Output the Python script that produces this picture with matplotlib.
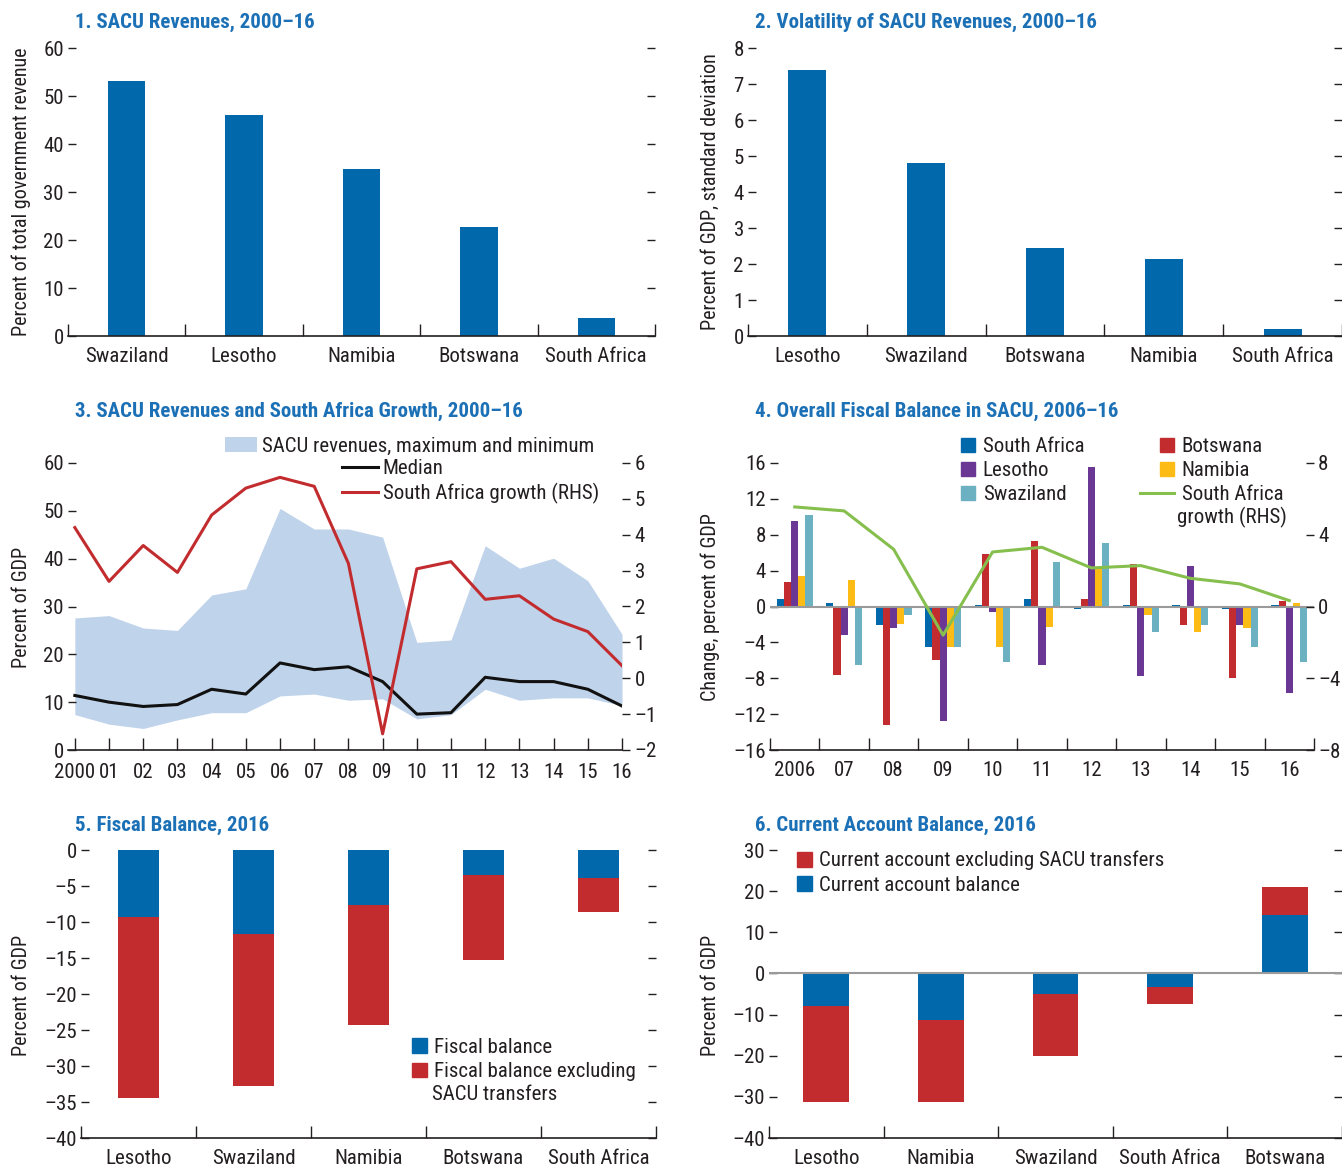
import matplotlib
matplotlib.use("Agg")
import matplotlib.pyplot as plt
import matplotlib.patches as mpatches
from matplotlib import font_manager
from matplotlib.legend_handler import HandlerPatch
from matplotlib.ticker import FuncFormatter
import numpy as np

# pick a narrow face if one is installed, else plain Liberation Sans a bit smaller
fonts = font_manager.fontManager.ttflist
names = {f.name for f in fonts}
FAM, STRETCH, K = 'Liberation Sans', 'normal', 0.84
for cand in ['Liberation Sans Narrow', 'Roboto Condensed', 'Open Sans Condensed',
             'DejaVu Sans Condensed', 'Noto Sans Condensed']:
    if cand in names:
        FAM, STRETCH, K = cand, 'normal', 1.0
        break
else:
    if any(f.name == 'DejaVu Sans' and 'condensed' in str(f.stretch) for f in fonts):
        FAM, STRETCH, K = 'DejaVu Sans', 'condensed', 0.95

plt.rcParams['font.family'] = [FAM, 'DejaVu Sans']
plt.rcParams['font.stretch'] = STRETCH
FS = 15 * K
plt.rcParams['font.size'] = FS

W, H = 1342, 1167
BLUE = '#0068ab'
RED = '#c22c2f'
PURPLE = '#6b3795'
YELLOW = '#fdbb16'
TEAL = '#6cb1c1'
GREEN = '#86bf4e'
BAND = '#bfd3ea'
TITLE = '#1b70b6'
INK = '#231f20'
ZERO = '#9a9a9a'

# 1. SACU revenues, percent of total government revenue
p1_countries = ['Swaziland', 'Lesotho', 'Namibia', 'Botswana', 'South Africa']
p1_share = [53.2, 46.0, 34.7, 22.8, 3.8]

# 2. volatility, percent of GDP (std dev)
p2_countries = ['Lesotho', 'Swaziland', 'Botswana', 'Namibia', 'South Africa']
p2_std = [7.4, 4.8, 2.45, 2.15, 0.2]

# 3. SACU revenues band and South Africa growth
p3_years = list(range(2000, 2017))
p3_year_labels = ['2000', '01', '02', '03', '04', '05', '06', '07', '08',
                  '09', '10', '11', '12', '13', '14', '15', '16']
p3_max = [27.6, 28.1, 25.5, 25.0, 32.4, 33.7, 50.5, 46.2, 46.2, 44.5,
          22.5, 23.0, 42.7, 38.0, 40.1, 35.4, 24.2]
p3_min = [7.4, 5.4, 4.5, 6.3, 7.8, 7.8, 11.3, 11.7, 10.4, 10.7,
          6.5, 7.4, 12.7, 10.4, 10.9, 10.9, 9.3]
p3_median = [11.4, 10.0, 9.1, 9.5, 12.7, 11.7, 18.2, 16.8, 17.4, 14.3,
             7.5, 7.8, 15.2, 14.3, 14.3, 12.7, 9.2]
p3_sa_growth = [4.2, 2.7, 3.7, 2.95, 4.55, 5.3, 5.6, 5.35, 3.2, -1.55,
                3.05, 3.25, 2.2, 2.3, 1.65, 1.3, 0.35]

# 4. overall fiscal balance, change in percent of GDP
p4_years = ['2006', '07', '08', '09', '10', '11', '12', '13', '14', '15', '16']
p4_south_africa = [0.8, 0.4, -2.1, -4.5, 0.2, 0.85, -0.3, 0.2, 0.2, -0.3, 0.2]
p4_botswana = [2.7, -7.6, -13.2, -6.0, 5.9, 7.3, 0.85, 4.75, -2.1, -8.0, 0.65]
p4_lesotho = [9.5, -3.2, -2.4, -12.8, -0.6, -6.5, 15.6, -7.8, 4.55, -2.1, -9.6]
p4_namibia = [3.4, 3.0, -1.9, -4.5, -4.5, -2.3, 4.3, -1.0, -2.8, -2.35, 0.4]
p4_swaziland = [10.2, -6.5, -1.0, -4.5, -6.2, 5.0, 7.1, -2.8, -2.1, -4.5, -6.2]
p4_sa_growth = [5.55, 5.33, 3.19, -1.6, 3.04, 3.3, 2.15, 2.28, 1.57, 1.26, 0.33]

# 5. fiscal balance 2016
p5_countries = ['Lesotho', 'Swaziland', 'Namibia', 'Botswana', 'South Africa']
p5_fiscal = [-9.35, -11.65, -7.7, -3.5, -3.9]
p5_fiscal_ex_sacu = [-34.4, -32.8, -24.3, -15.3, -8.6]

# 6. current account balance 2016
p6_countries = ['Lesotho', 'Namibia', 'Swaziland', 'South Africa', 'Botswana']
p6_ca = [-7.8, -11.2, -5.1, -3.3, 14.3]
p6_ca_ex_sacu = [-31.3, -31.3, -20.1, -7.5, 20.9]


def dash_fmt(v, pos):
    return f'{v:g}'.replace('-', '\u2013')


def fx(px):
    return px / W


def fy(py):
    return 1 - py / H


def add_axes(x0, y0, x1, y1):
    return fig.add_axes([fx(x0), fy(y1), (x1 - x0) / W, (y1 - y0) / H])


def style(ax, right_ticks=True):
    for s in ['left', 'right', 'top']:
        ax.spines[s].set_visible(False)
    ax.spines['bottom'].set_color(INK)
    ax.spines['bottom'].set_linewidth(1.2)
    ax.tick_params(axis='y', direction='in', length=6, width=1, colors=INK,
                   left=True, right=right_ticks, pad=3)
    ax.tick_params(axis='x', which='major', length=0, pad=8, colors=INK)
    ax.tick_params(axis='x', which='minor', direction='in', length=9,
                   width=1, color=INK)
    ax.yaxis.set_major_formatter(FuncFormatter(dash_fmt))
    ax.set_facecolor('none')


def categories(ax, labels):
    n = len(labels)
    ax.set_xlim(-0.5, n - 0.5)
    ax.set_xticks(range(n))
    ax.set_xticklabels(labels)
    ax.set_xticks(np.arange(n + 1) - 0.5, minor=True)


def note(x, y, text, color=INK, **kw):
    fig.text(fx(x), fy(y), text, ha='left', va='center', color=color, **kw)


def title(x, y, text):
    note(x, y, text, color=TITLE, fontweight='bold', fontsize=FS)


def ylabel(ax, text, x, y):
    ax.set_ylabel(text, fontsize=14.5 * K, color=INK)
    ax.yaxis.set_label_coords(fx(x), fy(y), transform=fig.transFigure)


def square(legend, orig_handle, xdescent, ydescent, width, height, fontsize):
    s = 0.68 * fontsize
    return mpatches.Rectangle((-xdescent + width - s, -ydescent + (height - s) / 2), s, s)


def legend(handles, labels, x, y, **kw):
    opts = dict(loc='upper left', bbox_to_anchor=(fx(x), fy(y)),
                bbox_transform=fig.transFigure, frameon=False, borderpad=0,
                borderaxespad=0, fontsize=FS, handletextpad=0.35,
                labelspacing=0.25)
    opts.update(kw)
    leg = fig.legend(handles, labels, **opts)
    for t in leg.get_texts():
        t.set_color(INK)
    return leg


fig = plt.figure(figsize=(W / 100, H / 100), dpi=100)

# panel 1
ax1 = add_axes(68, 48, 655, 336)
style(ax1)
ax1.bar(range(len(p1_share)), p1_share, width=0.32, color=BLUE)
categories(ax1, p1_countries)
ax1.set_ylim(0, 60)
ax1.set_yticks(range(0, 61, 10))
title(75, 22, '1. SACU Revenues, 2000\u201316')
ylabel(ax1, 'Percent of total government revenue', 31, 192)

# panel 2
ax2 = add_axes(748, 48, 1342, 336)
style(ax2)
ax2.bar(range(len(p2_std)), p2_std, width=0.32, color=BLUE)
categories(ax2, p2_countries)
ax2.set_ylim(0, 8)
ax2.set_yticks(range(0, 9))
title(755, 22, '2. Volatility of SACU Revenues, 2000\u201316')
ylabel(ax2, 'Percent of GDP, standard deviation', 720, 192)

# panel 3
ax3 = add_axes(68, 463, 622, 750)
style(ax3, right_ticks=False)
band = ax3.fill_between(p3_years, p3_min, p3_max, color=BAND, lw=0)
med, = ax3.plot(p3_years, p3_median, color='#111111', lw=2.2)
ax3.set_xlim(1999.8, 2016)
ax3.set_ylim(0, 60)
ax3.set_yticks(range(0, 61, 10))
ax3.set_xticks(p3_years)
ax3.set_xticklabels(p3_year_labels)
ax3.tick_params(axis='x', which='major', direction='in', length=9, width=1,
                color=INK, pad=9)
ax3r = ax3.twinx()
style(ax3r, right_ticks=True)
ax3r.tick_params(axis='y', left=False, labelleft=False, labelright=True,
                 direction='out')
ax3r.spines['bottom'].set_visible(False)
growth3, = ax3r.plot(p3_years, p3_sa_growth, color=RED, lw=2.2)
ax3r.set_ylim(-2, 6)
ax3r.set_yticks(range(-2, 7))
title(75, 411, '3. SACU Revenues and South Africa Growth, 2000\u201316')
ylabel(ax3, 'Percent of GDP', 31, 607)
legend([band], ['SACU revenues, maximum and minimum'], 225, 437,
       handlelength=1.55, handleheight=0.75, handletextpad=0.25)
legend([med, growth3], ['Median', 'South Africa growth (RHS)'], 342, 459,
       handlelength=1.75, handletextpad=0.2)

# panel 4
ax4 = add_axes(770, 463, 1314, 750)
style(ax4, right_ticks=False)
series4 = [(p4_south_africa, BLUE), (p4_botswana, RED), (p4_lesotho, PURPLE),
           (p4_namibia, YELLOW), (p4_swaziland, TEAL)]
bw = 0.145
x4 = np.arange(len(p4_years))
for i, (vals, col) in enumerate(series4):
    ax4.bar(x4 + (i - 2) * bw, vals, width=bw, color=col, zorder=2)
ax4.axhline(0, color=ZERO, lw=1.5, zorder=3)
categories(ax4, p4_years)
ax4.set_ylim(-16, 16)
ax4.set_yticks(range(-16, 17, 4))
ax4r = ax4.twinx()
style(ax4r, right_ticks=True)
ax4r.tick_params(axis='y', left=False, labelleft=False, labelright=True)
ax4r.spines['bottom'].set_visible(False)
growth4, = ax4r.plot(x4, p4_sa_growth, color=GREEN, lw=2.2)
ax4r.set_ylim(-8, 8)
ax4r.set_yticks(range(-8, 9, 4))
title(755, 411, '4. Overall Fiscal Balance in SACU, 2006\u201316')
ylabel(ax4, 'Change, percent of GDP', 720, 607)
sq = {mpatches.Patch: HandlerPatch(patch_func=square)}
legend([mpatches.Patch(color=BLUE), mpatches.Patch(color=PURPLE), mpatches.Patch(color=TEAL)],
       ['South Africa', 'Lesotho', 'Swaziland'], 941, 437,
       handlelength=1.65, handler_map=sq)
legend([mpatches.Patch(color=RED), mpatches.Patch(color=YELLOW), growth4],
       ['Botswana', 'Namibia', 'South Africa'], 1140, 437,
       handlelength=1.65, handler_map=sq)
note(1177, 517, 'growth (RHS)', fontsize=FS)

# panel 5
ax5 = add_axes(81, 850, 656, 1138)
style(ax5)
x5 = np.arange(len(p5_countries))
ax5.bar(x5, p5_fiscal_ex_sacu, width=0.36, color=RED)
ax5.bar(x5, p5_fiscal, width=0.36, color=BLUE)
categories(ax5, p5_countries)
ax5.set_ylim(-40, 0)
ax5.set_yticks(range(-40, 1, 5))
title(75, 825, '5. Fiscal Balance, 2016')
ylabel(ax5, 'Percent of GDP', 31, 995)
legend([mpatches.Patch(color=BLUE), mpatches.Patch(color=RED)],
       ['Fiscal balance', 'Fiscal balance excluding'], 412, 1038,
       handlelength=0.7, handleheight=0.7)
note(432, 1095, 'SACU transfers', fontsize=FS)

# panel 6
ax6 = add_axes(769, 850, 1342, 1138)
style(ax6)
x6 = np.arange(len(p6_countries))
ax6.bar(x6, p6_ca_ex_sacu, width=0.40, color=RED, zorder=2)
ax6.bar(x6, p6_ca, width=0.40, color=BLUE, zorder=2)
ax6.axhline(0, color=ZERO, lw=1.5, zorder=3)
categories(ax6, p6_countries)
ax6.set_ylim(-40, 30)
ax6.set_yticks(range(-40, 31, 10))
title(755, 825, '6. Current Account Balance, 2016')
ylabel(ax6, 'Percent of GDP', 720, 995)
legend([mpatches.Patch(color=RED), mpatches.Patch(color=BLUE)],
       ['Current account excluding SACU transfers', 'Current account balance'],
       797, 851, handlelength=0.7, handleheight=0.7)

fig.savefig('out.png', dpi=100)
